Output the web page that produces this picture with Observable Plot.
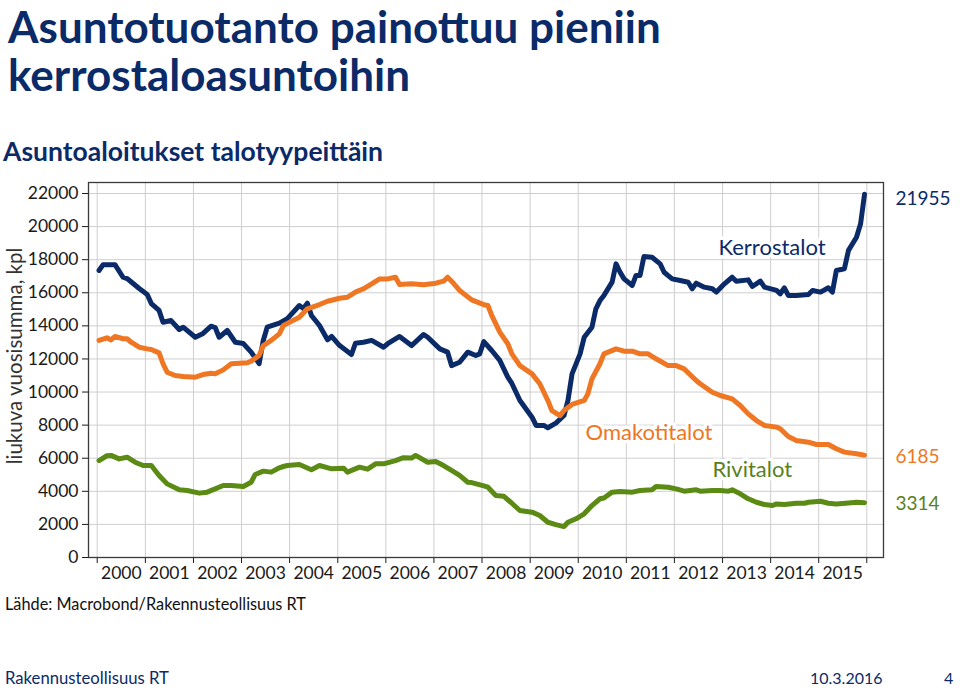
<!DOCTYPE html>
<html>
<head>
<meta charset="utf-8">
<script src="https://cdn.jsdelivr.net/npm/d3@7"></script>
<script src="https://cdn.jsdelivr.net/npm/@observablehq/plot@0.6"></script>
<style>
  html, body { margin: 0; padding: 0; background: #fff; }
  #page { position: relative; width: 960px; height: 691px; font-family: Lato, "Open Sans", sans-serif; }
  .t { position: absolute; white-space: nowrap; line-height: 1; }
  #chart { position: absolute; left: 0; top: 170px; }
</style>
</head>
<body>
<div id="page">
  <div class="t" style="left:8px; top:4px; font-size:44px; font-weight:700; color:#0b2a68;">Asuntotuotanto painottuu pieniin</div>
  <div class="t" style="left:8px; top:52px; font-size:44px; font-weight:700; color:#0b2a68;">kerrostaloasuntoihin</div>
  <div class="t" style="left:3px; top:138px; font-size:26.5px; font-weight:700; color:#0b2a68;">Asuntoaloitukset talotyypeittäin</div>
  <div id="chart"></div>
  <div class="t" style="left:5px; top:596px; font-size:16.3px; color:#111;">Lähde: Macrobond/Rakennusteollisuus RT</div>
  <div class="t" style="left:5px; top:670px; font-size:16.7px; color:#0b2a68;">Rakennusteollisuus RT</div>
  <div class="t" style="left:810px; top:670px; font-size:16px; color:#0b2a68;">10.3.2016</div>
  <div class="t" style="left:944px; top:670px; font-size:16px; color:#0b2a68;">4</div>
</div>
<script>
// Kerrostalot (apartment blocks)
const kerrMonths = ["2000-01","2000-02","2000-05","2000-07","2000-08","2000-11","2001-01","2001-02","2001-04","2001-05","2001-07","2001-09","2001-10","2002-01","2002-03","2002-05","2002-06","2002-07","2002-09","2002-11","2003-01","2003-03","2003-05","2003-06","2003-07","2003-10","2003-12","2004-03","2004-04","2004-05","2004-06","2004-08","2004-10","2004-11","2005-01","2005-04","2005-05","2005-07","2005-09","2005-12","2006-01","2006-04","2006-07","2006-10","2006-11","2007-02","2007-04","2007-05","2007-07","2007-09","2007-11","2007-12","2008-01","2008-03","2008-05","2008-07","2008-08","2008-10","2009-01","2009-02","2009-04","2009-05","2009-07","2009-09","2009-10","2009-11","2010-01","2010-02","2010-04","2010-05","2010-06","2010-07","2010-09","2010-10","2010-11","2010-12","2011-02","2011-03","2011-04","2011-05","2011-07","2011-09","2011-10","2011-12","2012-02","2012-04","2012-05","2012-06","2012-08","2012-10","2012-11","2013-01","2013-03","2013-04","2013-07","2013-08","2013-10","2013-11","2014-02","2014-03","2014-04","2014-05","2014-07","2014-10","2014-11","2015-01","2015-03","2015-04","2015-05","2015-07","2015-08","2015-10","2015-11","2015-12"];
const kerrValues = [17350,17700,17700,16940,16860,16260,15900,15350,14930,14220,14320,13780,13920,13310,13540,13980,13900,13310,13720,13010,12930,12410,11720,13120,13920,14160,14440,15230,15050,15370,14630,14020,13160,13360,12810,12270,12950,13010,13120,12710,12920,13360,12810,13480,13310,12610,12410,11600,11800,12410,12210,12310,13050,12510,11910,10900,10520,9490,8480,7980,7980,7840,8120,8580,9490,11100,12310,13310,13920,15030,15530,15840,16640,17750,17240,16840,16440,17040,17040,18190,18150,17750,17240,16840,16740,16640,16240,16580,16340,16240,16040,16540,16940,16700,16780,16380,16700,16340,16140,15940,16300,15840,15840,15900,16140,16040,16300,16040,17350,17450,18560,19360,20170,21955];

// Omakotitalot (detached houses)
const omakMonths = ["2000-01","2000-03","2000-04","2000-05","2000-07","2000-08","2000-09","2000-11","2001-01","2001-02","2001-04","2001-05","2001-06","2001-08","2001-10","2002-01","2002-03","2002-05","2002-06","2002-08","2002-10","2003-02","2003-03","2003-05","2003-06","2003-08","2003-10","2003-11","2003-12","2004-03","2004-05","2004-08","2004-10","2005-01","2005-03","2005-05","2005-07","2005-09","2005-11","2006-01","2006-03","2006-04","2006-07","2006-10","2007-01","2007-03","2007-04","2007-05","2007-07","2007-10","2008-01","2008-02","2008-03","2008-05","2008-07","2008-08","2008-10","2009-01","2009-03","2009-05","2009-06","2009-08","2009-09","2009-11","2010-02","2010-03","2010-04","2010-06","2010-07","2010-10","2010-12","2011-02","2011-04","2011-06","2011-08","2011-11","2012-01","2012-03","2012-06","2012-07","2012-10","2012-12","2013-03","2013-05","2013-07","2013-09","2013-11","2014-02","2014-03","2014-05","2014-07","2014-10","2014-12","2015-03","2015-05","2015-07","2015-10","2015-12"];
const omakValues = [13120,13280,13150,13360,13220,13220,13010,12710,12610,12570,12370,11710,11200,11000,10940,10900,11060,11140,11100,11340,11710,11770,11870,12210,12810,13120,13520,14020,14150,14520,15030,15290,15490,15670,15730,16040,16240,16540,16840,16840,16940,16500,16540,16480,16580,16700,16940,16700,16140,15570,15280,15230,14630,13620,12920,12310,11600,11100,10500,9490,8880,8580,8880,9250,9490,9890,10800,11710,12310,12610,12470,12470,12310,12310,12010,11600,11600,11400,10700,10500,9990,9790,9590,9190,8680,8280,7980,7880,7780,7310,7070,6970,6830,6830,6570,6370,6270,6185];

// Rivitalot (terraced houses)
const riviMonths = ["2000-01","2000-03","2000-04","2000-06","2000-08","2000-10","2000-12","2001-02","2001-04","2001-06","2001-09","2001-11","2002-02","2002-04","2002-06","2002-08","2002-10","2003-01","2003-03","2003-04","2003-06","2003-08","2003-10","2003-11","2003-12","2004-03","2004-06","2004-08","2004-11","2005-02","2005-03","2005-06","2005-08","2005-10","2005-12","2006-03","2006-05","2006-07","2006-08","2006-11","2007-01","2007-03","2007-05","2007-07","2007-09","2007-10","2008-01","2008-02","2008-04","2008-06","2008-08","2008-10","2009-01","2009-03","2009-05","2009-07","2009-09","2009-10","2009-12","2010-02","2010-04","2010-06","2010-07","2010-09","2010-11","2011-02","2011-04","2011-07","2011-08","2011-11","2012-01","2012-03","2012-06","2012-07","2012-10","2012-12","2013-02","2013-03","2013-05","2013-07","2013-09","2013-11","2014-01","2014-02","2014-04","2014-07","2014-09","2014-10","2015-01","2015-03","2015-05","2015-08","2015-10","2015-12"];
const riviValues = [5860,6150,6170,5960,6060,5760,5560,5560,4960,4450,4090,4050,3890,3950,4150,4350,4350,4290,4550,5020,5220,5160,5420,5500,5560,5620,5300,5560,5360,5400,5160,5460,5340,5660,5660,5860,6030,6010,6170,5760,5800,5560,5260,4960,4550,4530,4330,4250,3750,3700,3280,2840,2740,2540,2130,1990,1870,2130,2340,2640,3140,3550,3600,3950,3990,3950,4050,4100,4290,4250,4150,4010,4090,4010,4050,4050,4010,4090,3850,3550,3340,3200,3140,3240,3200,3280,3280,3340,3400,3280,3240,3300,3340,3314];

const seriesNames = ["Kerrostalot", "Omakotitalot", "Rivitalot"];
const seriesColors = ["#0b2a68", "#ef7622", "#5b8a15"];
const lastLabels = ["21955", "6185", "3314"];
const yTicks = [0,2000,4000,6000,8000,10000,12000,14000,16000,18000,20000,22000];
const years = d3.range(2000, 2016);

const toDate = s => { const [y, m] = s.split("-").map(Number); return new Date(Date.UTC(y, m - 1, 15)); };
const build = (months, values, name) => months.map((m, i) => ({date: toDate(m), value: values[i], series: name}));
const data = [
  ...build(kerrMonths, kerrValues, seriesNames[0]),
  ...build(omakMonths, omakValues, seriesNames[1]),
  ...build(riviMonths, riviValues, seriesNames[2])
];

const yearStarts = d3.range(2000, 2017).map(y => new Date(Date.UTC(y, 0, 1)));
const yearMids = years.map(y => new Date(Date.UTC(y, 6, 2)));

// inline labels (anchor in data coordinates)
const inlineLabels = [
  {date: new Date(Date.UTC(2012, 11, 1)), value: 18700, text: seriesNames[0], color: seriesColors[0]},
  {date: new Date(Date.UTC(2010, 1, 25)), value: 7500, text: seriesNames[1], color: seriesColors[1]},
  {date: new Date(Date.UTC(2012, 9, 16)), value: 5300, text: seriesNames[2], color: "#5b7f1c"}
];
const endLabels = [
  {value: 21700, text: lastLabels[0], color: seriesColors[0]},
  {value: 6100, text: lastLabels[1], color: seriesColors[1]},
  {value: 3250, text: lastLabels[2], color: "#5b7f1c"}
];
const xLeft = new Date(Date.UTC(1999, 9, 27));
const xRight = new Date(Date.UTC(2016, 4, 7));

const chart = Plot.plot({
  width: 960,
  height: 420,
  marginLeft: 88,
  marginRight: 77,
  marginTop: 12,
  marginBottom: 33,
  style: {fontFamily: "Lato, 'Open Sans', sans-serif", fontSize: "17.5px", color: "#1a1a1a", background: "transparent", overflow: "visible"},
  x: {type: "utc", domain: [xLeft, xRight]},
  y: {domain: [0, 22665]},
  marks: [
    Plot.gridY(yTicks.filter(d => d > 0), {stroke: "#cfcfcf", strokeOpacity: 1, strokeWidth: 1}),
    Plot.gridX(yearStarts, {stroke: "#cfcfcf", strokeOpacity: 1, strokeWidth: 1}),
    Plot.axisY(yTicks, {tickSize: 6, tickPadding: 4, label: null, tickFormat: d => String(d), fontSize: 17.5}),
    Plot.axisX(yearStarts, {tickSize: 6, tickFormat: () => "", label: null}),
    Plot.axisX(yearMids, {tickSize: 0, tickPadding: 9, tickFormat: d => String(d.getUTCFullYear()), label: null, fontSize: 17.5}),
    Plot.line(data, {x: "date", y: "value", z: "series", stroke: "series", strokeWidth: 5, strokeLinejoin: "round", strokeLinecap: "round"}),
    Plot.text(inlineLabels, {x: "date", y: "value", text: "text", fill: "color", fontSize: 22, stroke: "white", strokeWidth: 7, textAnchor: "start"}),
    Plot.text(endLabels, {x: xRight, y: "value", text: "text", fill: "color", fontSize: 19, dx: 12, textAnchor: "start"}),
    Plot.frame({stroke: "#3a3a3a", strokeWidth: 1.3}),
    Plot.text(["liukuva vuosisumma, kpl"], {frameAnchor: "left", textAnchor: "middle", dx: -73, dy: -14, rotate: -90, fontSize: 20.5, fill: "#333"})
  ],
  color: {domain: seriesNames, range: seriesColors}
});
document.getElementById("chart").appendChild(chart);
</script>
</body>
</html>
